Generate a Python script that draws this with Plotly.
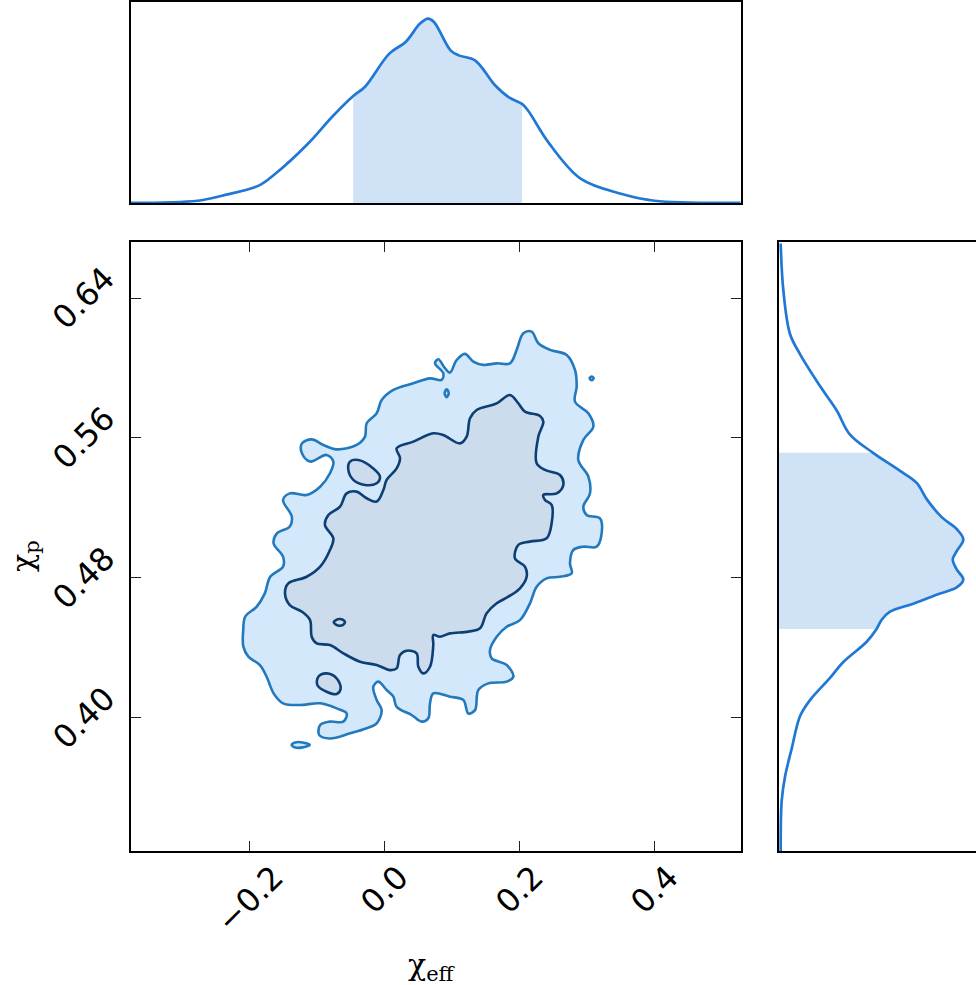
import plotly.graph_objects as go

# ---------------- data ----------------
# marginal KDE of chi_eff
chi_eff_grid = [-0.377, -0.2777, -0.2414, -0.1871, -0.1629, -0.1145, -0.0785, -0.047,
                -0.0299, 0.0064, 0.0306, 0.0519, 0.0637, 0.0726, 0.0971, 0.1092,
                0.1334, 0.1634, 0.1850, 0.203, 0.2119, 0.2421, 0.2904, 0.3509,
                0.3993, 0.527]
chi_eff_density = [0.005, 0.050, 0.160, 0.381, 0.635, 1.292, 1.883, 2.343,
                   2.540, 3.270, 3.526, 3.927, 4.036, 3.964, 3.342, 3.232,
                   3.123, 2.573, 2.300, 2.170, 2.026, 1.327, 0.526, 0.197,
                   0.050, 0.005]
chi_eff_90 = [-0.047, 0.203]

# marginal KDE of chi_p
chi_p_grid = [0.6713, 0.6448, 0.6195, 0.6080, 0.5897, 0.5757, 0.5619, 0.5515,
              0.5412, 0.5343, 0.5250, 0.5147, 0.5079, 0.5020, 0.4952, 0.4905,
              0.4848, 0.4790, 0.4745, 0.4710, 0.4652, 0.4606, 0.4560, 0.4507,
              0.4434, 0.4318, 0.4227, 0.4100, 0.4008, 0.3823, 0.3662, 0.3525,
              0.3236]
chi_p_density = [0.074, 0.188, 0.482, 0.919, 1.795, 2.526, 3.108, 4.120,
                 5.297, 6.029, 6.466, 7.123, 7.780, 8.069, 7.780, 7.605,
                 7.780, 8.069, 7.780, 7.049, 5.880, 4.860, 4.496, 4.270,
                 3.840, 2.815, 2.233, 1.357, 0.919, 0.556, 0.263, 0.118,
                 0.074]
chi_p_90 = [0.4507, 0.5515]

# 90% credible contour (outer)
outer_x = [-0.210, -0.207, -0.190, -0.178, -0.170, -0.151, -0.151, -0.165, -0.160, -0.141,
           -0.138, -0.151, -0.141, -0.116, -0.096, -0.0815, -0.0765, -0.0864, -0.111, -0.123,
           -0.123, -0.1086, -0.0913, -0.0716, -0.0419, -0.0296, -0.0271, -0.0123, -0.0049, 0.0124,
           0.0420, 0.0667, 0.0840, 0.0864, 0.0741, 0.0790, 0.0889, 0.0963, 0.1062, 0.1185,
           0.1309, 0.1457, 0.1655, 0.1852, 0.1951, 0.2050, 0.2173, 0.2272, 0.2445, 0.2692,
           0.2815, 0.2840, 0.2815, 0.3013, 0.3087, 0.2939, 0.2864, 0.3013, 0.3037, 0.2939,
           0.2988, 0.3185, 0.3210, 0.3136, 0.2939, 0.2790, 0.2741, 0.2766, 0.2593, 0.2395,
           0.2247, 0.2148, 0.2000, 0.1803, 0.1655, 0.1556, 0.1581, 0.1803, 0.1902, 0.1803,
           0.1531, 0.1383, 0.1334, 0.1235, 0.1161, 0.0963, 0.0716, 0.0667, 0.0642, 0.0544,
           0.0395, 0.0173, 0.0124, 0.0025, -0.0098, -0.0173, -0.0123, -0.0049, -0.0123, -0.0271,
           -0.0518, -0.0815, -0.0973, -0.096, -0.0815, -0.0617, -0.0568, -0.0716, -0.096, -0.1259,
           -0.151, -0.165, -0.1753, -0.1852, -0.2024, -0.2098, -0.210]
outer_y = [0.4501, 0.4578, 0.4635, 0.4711, 0.4806, 0.4864, 0.4921, 0.4997, 0.5054, 0.5093,
           0.5150, 0.5245, 0.5283, 0.5274, 0.5321, 0.5398, 0.5465, 0.5503, 0.5465, 0.5512,
           0.5569, 0.5592, 0.5560, 0.5535, 0.5560, 0.5608, 0.5684, 0.5741, 0.5817, 0.5875,
           0.5913, 0.5941, 0.5932, 0.5970, 0.6027, 0.6050, 0.5999, 0.5974, 0.6046, 0.6081,
           0.6037, 0.6018, 0.6027, 0.6027, 0.6104, 0.6199, 0.6208, 0.6142, 0.6104, 0.6075,
           0.5989, 0.5894, 0.5808, 0.5741, 0.5665, 0.5589, 0.5474, 0.5379, 0.5283, 0.5207,
           0.5159, 0.5140, 0.5054, 0.4978, 0.4978, 0.4959, 0.4883, 0.4826, 0.4806, 0.4797,
           0.4749, 0.4654, 0.4558, 0.4520, 0.4463, 0.4387, 0.4339, 0.4301, 0.4234, 0.4206,
           0.4196, 0.4158, 0.4043, 0.4024, 0.4101, 0.4120, 0.4139, 0.4082, 0.3996, 0.3977,
           0.4015, 0.4062, 0.4120, 0.4158, 0.4206, 0.4177, 0.4101, 0.4043, 0.3967, 0.3939,
           0.3910, 0.3881, 0.3900, 0.3958, 0.3977, 0.3977, 0.4024, 0.4053, 0.4082, 0.4072,
           0.4082, 0.4139, 0.4234, 0.4301, 0.4349, 0.4406, 0.4501]

# 50% credible contour (inner)
inner_x = [-0.1481, -0.1432, -0.116, -0.096, -0.0815, -0.0765, -0.0889, -0.0839, -0.0666, -0.0568,
           -0.0419, -0.0271, -0.0123, -0.0024, 0.0025, 0.0173, 0.0223, 0.0173, 0.0420, 0.0716,
           0.0864, 0.1111, 0.1210, 0.1260, 0.1358, 0.1655, 0.1852, 0.1976, 0.2074, 0.2297,
           0.2346, 0.2272, 0.2247, 0.2371, 0.2593, 0.2642, 0.2544, 0.2346, 0.2371, 0.2469,
           0.2469, 0.2395, 0.2148, 0.1976, 0.1926, 0.2074, 0.2099, 0.2000, 0.1827, 0.1655,
           0.1506, 0.1408, 0.1235, 0.0963, 0.0815, 0.0716, 0.0716, 0.0667, 0.0568, 0.0494,
           0.0469, 0.0321, 0.0223, 0.0173, 0.0074, -0.0123, -0.0370, -0.0617, -0.0815, -0.1012,
           -0.1086, -0.111, -0.123, -0.141, -0.1481]
inner_y = [0.4711, 0.4768, 0.4806, 0.4864, 0.4959, 0.5026, 0.5102, 0.5159, 0.5207, 0.5283,
           0.5293, 0.5255, 0.5236, 0.5302, 0.5360, 0.5426, 0.5484, 0.5541, 0.5579, 0.5627,
           0.5617, 0.5569, 0.5608, 0.5713, 0.5760, 0.5798, 0.5846, 0.5798, 0.5751, 0.5726,
           0.5693, 0.5608, 0.5455, 0.5417, 0.5388, 0.5331, 0.5283, 0.5274, 0.5245, 0.5217,
           0.5112, 0.5026, 0.5007, 0.4988, 0.4911, 0.4864, 0.4806, 0.4740, 0.4692, 0.4654,
           0.4597, 0.4511, 0.4492, 0.4482, 0.4463, 0.4473, 0.4415, 0.4291, 0.4253, 0.4291,
           0.4368, 0.4383, 0.4358, 0.4282, 0.4272, 0.4301, 0.4320, 0.4368, 0.4415, 0.4425,
           0.4463, 0.4558, 0.4606, 0.4644, 0.4711]

# small detached islands of the contours
inner_island_a_x = [-0.0518, -0.0395, -0.0173, -0.0074, -0.0123, -0.0296, -0.0469, -0.0543, -0.0518]
inner_island_a_y = [0.5465, 0.5474, 0.5426, 0.5379, 0.5341, 0.5331, 0.5360, 0.5417, 0.5465]
inner_island_b_x = [-0.0760, -0.0720, -0.0676, -0.0620, -0.0592, -0.0620, -0.0676, -0.0720, -0.0760]
inner_island_b_y = [0.4545, 0.4559, 0.4564, 0.4559, 0.4545, 0.4531, 0.4526, 0.4531, 0.4545]
inner_island_c_x = [-0.0987, -0.0864, -0.0716, -0.0656, -0.0716, -0.0864, -0.1002, -0.0987]
inner_island_c_y = [0.4234, 0.4253, 0.4225, 0.4167, 0.4135, 0.4148, 0.4187, 0.4234]
outer_island_a_x = [0.3032, 0.3062, 0.3092, 0.3062, 0.3032]
outer_island_a_y = [0.5941, 0.5952, 0.5941, 0.5930, 0.5941]
outer_island_b_x = [0.0884, 0.0914, 0.0944, 0.0914, 0.0884]
outer_island_b_y = [0.5856, 0.5879, 0.5856, 0.5833, 0.5856]
outer_island_c_x = [-0.1382, -0.1330, -0.1220, -0.1115, -0.1220, -0.1330, -0.1382]
outer_island_c_y = [0.3843, 0.3858, 0.3858, 0.3845, 0.3830, 0.3829, 0.3843]

x_ticks = [-0.2, 0.0, 0.2, 0.4]
x_ticklabels = ["\u22120.2", "0.0", "0.2", "0.4"]
y_ticks = [0.40, 0.48, 0.56, 0.64]
y_ticklabels = ["0.40", "0.48", "0.56", "0.64"]

x_range = [-0.3767, 0.527]
y_range = [0.3237, 0.6724]

# ---------------- style ----------------
OUTER_FILL = "#d3e9fb"
OUTER_LINE = "#2379bd"
INNER_FILL = "#cddcec"
INNER_LINE = "#0d3f74"
MARG_LINE = "#1f78d4"
MARG_FILL = "#d0e2f6"

W, H = 976, 985
fig = go.Figure()


def contour(xs, ys, fill, line):
    fig.add_trace(go.Scatter(x=xs, y=ys, mode="lines", fill="toself", fillcolor=fill,
                             line=dict(color=line, width=2.6, shape="spline", smoothing=1.0),
                             xaxis="x", yaxis="y", hoverinfo="skip", showlegend=False))


contour(outer_x, outer_y, OUTER_FILL, OUTER_LINE)
contour(outer_island_a_x, outer_island_a_y, OUTER_FILL, OUTER_LINE)
contour(outer_island_b_x, outer_island_b_y, OUTER_FILL, OUTER_LINE)
contour(outer_island_c_x, outer_island_c_y, OUTER_FILL, OUTER_LINE)
contour(inner_x, inner_y, INNER_FILL, INNER_LINE)
contour(inner_island_a_x, inner_island_a_y, INNER_FILL, INNER_LINE)
contour(inner_island_b_x, inner_island_b_y, INNER_FILL, INNER_LINE)
contour(inner_island_c_x, inner_island_c_y, INNER_FILL, INNER_LINE)

# top marginal
sx = [x for x in chi_eff_grid if chi_eff_90[0] <= x <= chi_eff_90[1]]
sy = [d for x, d in zip(chi_eff_grid, chi_eff_density) if chi_eff_90[0] <= x <= chi_eff_90[1]]
fig.add_trace(go.Scatter(x=sx, y=sy, mode="lines", fill="tozeroy", fillcolor=MARG_FILL,
                         line=dict(width=0, color=MARG_FILL, shape="spline"),
                         xaxis="x2", yaxis="y2", hoverinfo="skip", showlegend=False))
fig.add_trace(go.Scatter(x=chi_eff_grid, y=chi_eff_density, mode="lines",
                         line=dict(color=MARG_LINE, width=2.7, shape="spline"),
                         xaxis="x2", yaxis="y2", hoverinfo="skip", showlegend=False))

# right marginal
ry = [y for y in chi_p_grid if chi_p_90[0] <= y <= chi_p_90[1]]
rx = [d for y, d in zip(chi_p_grid, chi_p_density) if chi_p_90[0] <= y <= chi_p_90[1]]
fig.add_trace(go.Scatter(x=rx, y=ry, mode="lines", fill="tozerox", fillcolor=MARG_FILL,
                         line=dict(width=0, color=MARG_FILL, shape="spline"),
                         xaxis="x3", yaxis="y3", hoverinfo="skip", showlegend=False))
fig.add_trace(go.Scatter(x=chi_p_density, y=chi_p_grid, mode="lines",
                         line=dict(color=MARG_LINE, width=2.7, shape="spline"),
                         xaxis="x3", yaxis="y3", hoverinfo="skip", showlegend=False))

main_x_dom = [130.7 / W, 740.7 / W]
main_y_dom = [(H - 851) / H, (H - 241.5) / H]
top_y_dom = [(H - 203) / H, (H - 2) / H]
right_x_dom = [779 / W, 1.0]

TICKFONT = dict(family="DejaVu Sans", size=32, color="black")
annotations = []
# x tick labels: rotated 45 deg, centred under each tick
for v, t in zip(x_ticks, x_ticklabels):
    annotations.append(dict(text=t, xref="x", yref="paper", x=v, y=(H - 855) / H,
                            xanchor="center", yanchor="top", textangle=-45,
                            showarrow=False, font=TICKFONT))
# y tick labels: rotated 45 deg, right aligned, centred on each tick
for v, t in zip(y_ticks, y_ticklabels):
    annotations.append(dict(text=t, xref="paper", yref="y", x=125 / W, y=v,
                            xanchor="right", yanchor="middle", textangle=-45,
                            showarrow=False, font=TICKFONT))
annotations += [
    dict(text="\u03c7<sub>eff</sub>", xref="paper", yref="paper", x=432 / W, y=(H - 966) / H,
         showarrow=False, xanchor="center", yanchor="middle",
         font=dict(family="DejaVu Serif", size=30, color="black")),
    dict(text="\u03c7<sub>p</sub>", xref="paper", yref="paper", x=24 / W, y=(H - 556) / H,
         showarrow=False, xanchor="center", yanchor="middle", textangle=-90,
         font=dict(family="DejaVu Serif", size=30, color="black")),
]

fig.update_layout(
    width=W, height=H, margin=dict(l=0, r=0, t=0, b=0),
    paper_bgcolor="white", plot_bgcolor="white",
    xaxis=dict(domain=main_x_dom, range=x_range, anchor="y", tickvals=x_ticks,
               showticklabels=False, ticks="inside", ticklen=10, tickwidth=1.2, tickcolor="#222",
               showline=True, linewidth=2, linecolor="black", mirror="ticks",
               showgrid=False, zeroline=False),
    yaxis=dict(domain=main_y_dom, range=y_range, anchor="x", tickvals=y_ticks,
               showticklabels=False, ticks="inside", ticklen=10, tickwidth=1.2, tickcolor="#222",
               showline=True, linewidth=2, linecolor="black", mirror="ticks",
               showgrid=False, zeroline=False),
    xaxis2=dict(domain=main_x_dom, range=x_range, anchor="y2", showticklabels=False, ticks="",
                showline=True, linewidth=2, linecolor="black", mirror=True,
                showgrid=False, zeroline=False),
    yaxis2=dict(domain=top_y_dom, range=[0, 4.4], anchor="x2", showticklabels=False, ticks="",
                showline=True, linewidth=2, linecolor="black", mirror=True,
                showgrid=False, zeroline=False),
    xaxis3=dict(domain=right_x_dom, range=[0, 8.625], anchor="y3", showticklabels=False, ticks="",
                showline=True, linewidth=2, linecolor="black", mirror=True,
                showgrid=False, zeroline=False),
    yaxis3=dict(domain=main_y_dom, range=y_range, anchor="x3", showticklabels=False, ticks="",
                showline=True, linewidth=2, linecolor="black", mirror=False,
                showgrid=False, zeroline=False),
    annotations=annotations,
)

fig.write_html("out.html")
